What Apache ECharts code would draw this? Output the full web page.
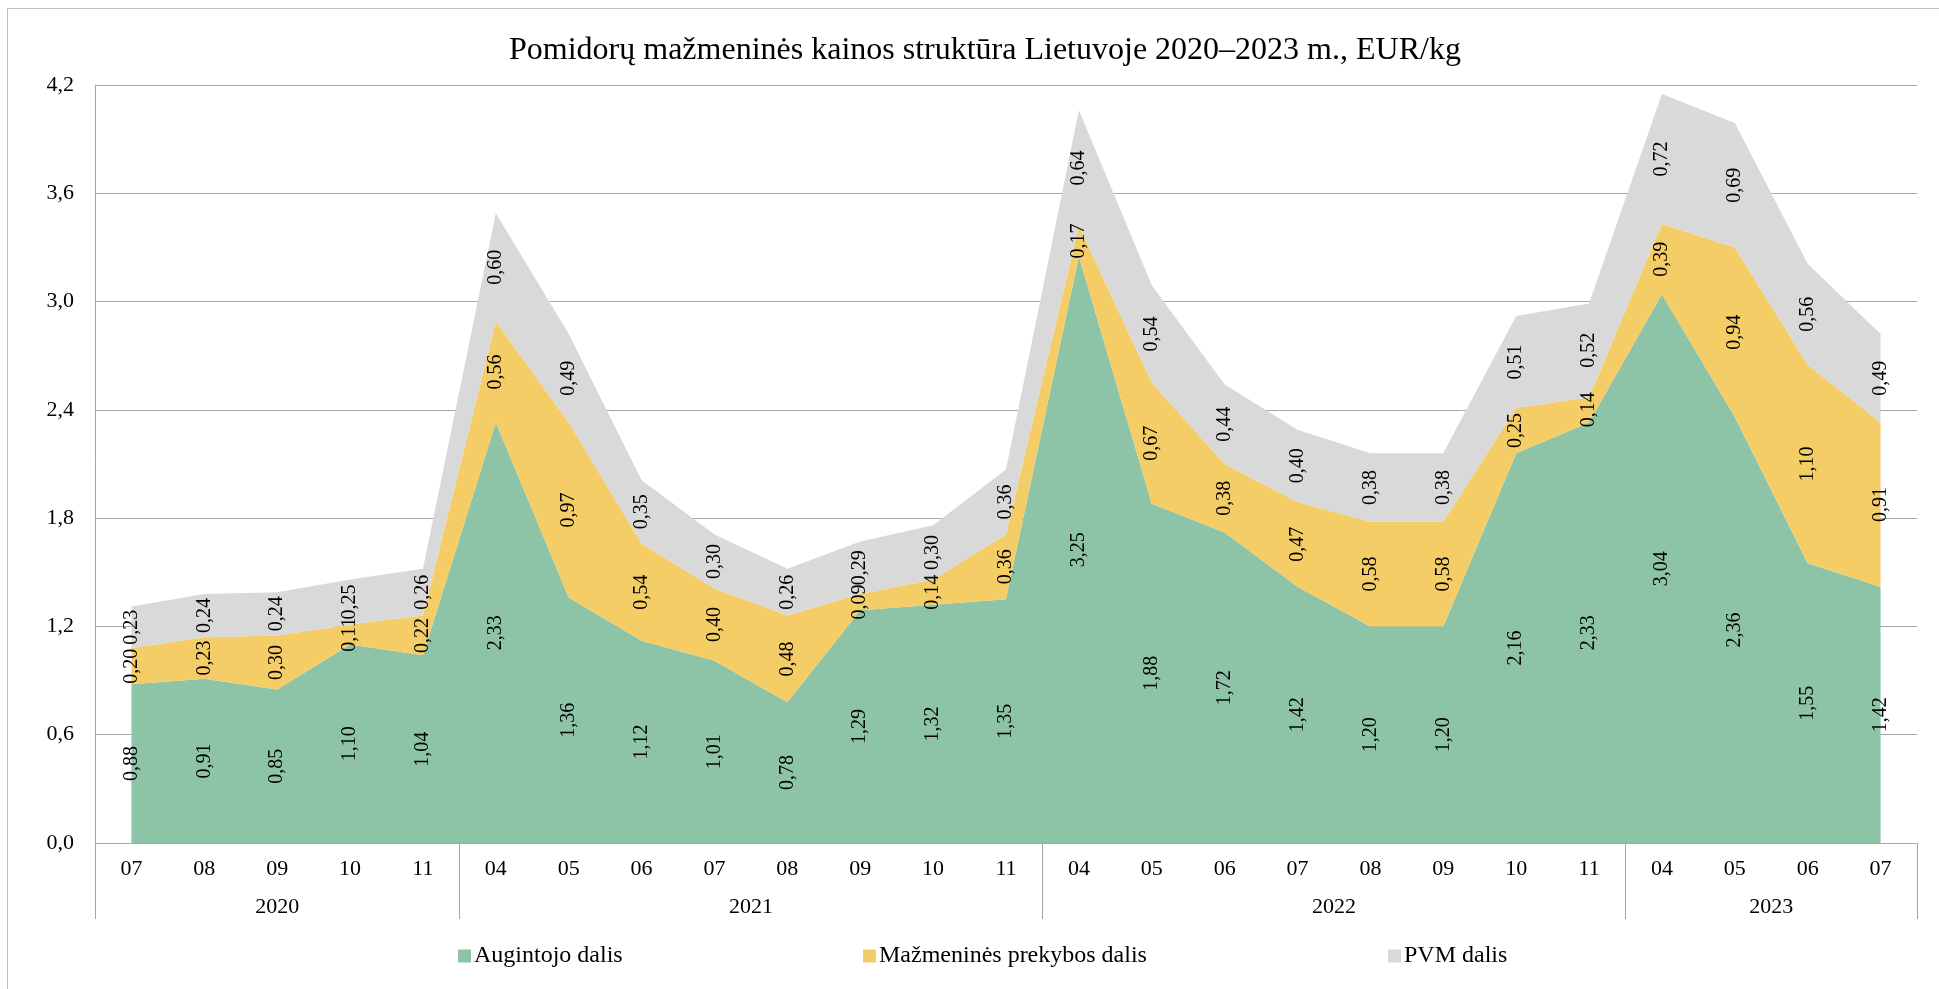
<!DOCTYPE html>
<html>
<head>
<meta charset="utf-8">
<script src="https://cdn.jsdelivr.net/npm/echarts@6/dist/echarts.min.js"></script>
<style>
  html, body { margin: 0; padding: 0; background: #fff; }
  #chart { width: 1939px; height: 989px; }
</style>
</head>
<body>
<div id="chart"></div>
<script>
// Month codes along the axis, grouped by year
const months = ['07','08','09','10','11',
                '04','05','06','07','08','09','10','11',
                '04','05','06','07','08','09','10','11',
                '04','05','06','07'];
const years = ['2020', '2021', '2022', '2023'];
const monthsPerYear = [5, 8, 8, 4];

// Price components, EUR/kg
const augintojo = [0.88, 0.91, 0.85, 1.10, 1.04,
                   2.33, 1.36, 1.12, 1.01, 0.78, 1.29, 1.32, 1.35,
                   3.25, 1.88, 1.72, 1.42, 1.20, 1.20, 2.16, 2.33,
                   3.04, 2.36, 1.55, 1.42];
const prekybos  = [0.20, 0.23, 0.30, 0.11, 0.22,
                   0.56, 0.97, 0.54, 0.40, 0.48, 0.09, 0.14, 0.36,
                   0.17, 0.67, 0.38, 0.47, 0.58, 0.58, 0.25, 0.14,
                   0.39, 0.94, 1.10, 0.91];
const pvm       = [0.23, 0.24, 0.24, 0.25, 0.26,
                   0.60, 0.49, 0.35, 0.30, 0.26, 0.29, 0.30, 0.36,
                   0.64, 0.54, 0.44, 0.40, 0.38, 0.38, 0.51, 0.52,
                   0.72, 0.69, 0.56, 0.49];

const seriesNames = ['Augintojo dalis', 'Mažmeninės prekybos dalis', 'PVM dalis'];
const colors = ['#8DC3A7', '#F5CD66', '#D9D9D9'];
const FONT = 'Liberation Serif';

// Year group boundaries and centres on a 0..N scale
const bounds = [0];
monthsPerYear.forEach(n => bounds.push(bounds[bounds.length - 1] + n));
const centres = monthsPerYear.map((n, i) => bounds[i] + n / 2);
const yearAt = {};
centres.forEach((c, i) => { yearAt[c] = years[i]; });

const comma = (v, d) => v.toFixed(d).replace('.', ',');

const values = [augintojo, prekybos, pvm];

const areaSeries = values.map((arr, i) => ({
  name: seriesNames[i],
  type: 'line',
  stack: 'area',
  data: arr,
  symbol: 'none',
  lineStyle: { width: 0 },
  areaStyle: { color: colors[i], opacity: 1 },
  itemStyle: { color: colors[i] },
  silent: true,
  z: 2
}));

// Transparent stacked bars carry the vertical value labels at each segment's middle
const labelSeries = values.map((arr, i) => ({
  name: 'labels-' + i,
  type: 'bar',
  stack: 'labels',
  data: arr,
  barWidth: '50%',
  itemStyle: { color: 'rgba(0,0,0,0)' },
  silent: true,
  z: 5,
  label: {
    show: true,
    position: 'inside',
    rotate: 90,
    color: '#000',
    fontFamily: FONT,
    fontSize: 20,
    formatter: p => comma(p.value, 2)
  }
}));

const legendLefts = [453, 858, 1383];
const legends = seriesNames.map((n, i) => ({
  data: [n],
  left: legendLefts[i],
  top: 939,
  icon: 'rect',
  itemWidth: 13,
  itemHeight: 13,
  itemGap: 6,
  selectedMode: false,
  textStyle: { fontFamily: FONT, fontSize: 24, color: '#000', padding: [0, 0, 0, -2] }
}));

const chart = echarts.init(document.getElementById('chart'));
chart.setOption({
  animation: false,
  backgroundColor: '#fff',
  title: {
    text: 'Pomidorų mažmeninės kainos struktūra Lietuvoje 2020–2023 m., EUR/kg',
    left: 504,
    top: 30,
    textStyle: { fontFamily: FONT, fontSize: 32, fontWeight: 'normal', color: '#000' }
  },
  legend: legends,
  grid: { left: 95, right: 22, top: 85, bottom: 146, containLabel: false },
  xAxis: [
    {
      type: 'category',
      data: months,
      boundaryGap: true,
      axisLine: { show: true, lineStyle: { color: '#a6a6a6', width: 1 } },
      axisTick: { show: false },
      axisLabel: { color: '#000', fontFamily: FONT, fontSize: 22, margin: 15, interval: 0 },
      splitLine: { show: false }
    },
    {
      type: 'value',
      position: 'bottom',
      min: 0,
      max: months.length,
      axisLine: { show: false },
      axisTick: {
        show: true,
        customValues: bounds,
        length: 76,
        lineStyle: { color: '#a6a6a6', width: 1 }
      },
      axisLabel: {
        show: true,
        customValues: centres,
        formatter: v => yearAt[v] || '',
        color: '#000',
        fontFamily: FONT,
        fontSize: 22,
        margin: 53
      },
      splitLine: { show: false }
    }
  ],
  yAxis: {
    type: 'value',
    min: 0,
    max: 4.2,
    interval: 0.6,
    axisLine: { show: true, lineStyle: { color: '#a6a6a6', width: 1 } },
    axisTick: { show: false },
    axisLabel: { color: '#000', fontFamily: FONT, fontSize: 22, margin: 21, formatter: v => comma(v, 1) },
    splitLine: { show: true, lineStyle: { color: '#a6a6a6', width: 1 } }
  },
  graphic: [{
    type: 'rect',
    shape: { x: 7.5, y: 8.5, width: 1960, height: 1000 },
    style: { fill: 'none', stroke: '#bfbfbf', lineWidth: 1 },
    silent: true,
    z: -1
  }],
  series: areaSeries.concat(labelSeries)
});
</script>
</body>
</html>
